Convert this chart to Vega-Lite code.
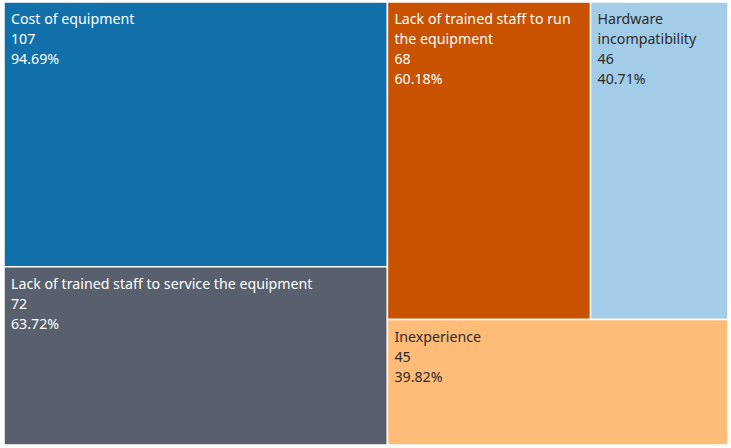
{
  "$schema": "https://vega.github.io/schema/vega-lite/v6.json",
  "width": 731,
  "height": 448,
  "autosize": {"type": "fit", "contains": "padding"},
  "padding": {"left": 3, "top": 1, "right": 2, "bottom": 2},
  "background": "white",
  "config": {"view": {"stroke": null}},
  "data": {
    "values": [
      {"category": "Cost of equipment", "label": "Cost of equipment", "count": 107, "percent": 94.69, "column": 1, "band": 1},
      {"category": "Lack of trained staff to service the equipment", "label": "Lack of trained staff to service the equipment", "count": 72, "percent": 63.72, "column": 1, "band": 2},
      {"category": "Lack of trained staff to run the equipment", "label": "Lack of trained staff to run\nthe equipment", "count": 68, "percent": 60.18, "column": 2, "band": 1},
      {"category": "Hardware incompatibility", "label": "Hardware\nincompatibility", "count": 46, "percent": 40.71, "column": 2, "band": 1},
      {"category": "Inexperience", "label": "Inexperience", "count": 45, "percent": 39.82, "column": 2, "band": 2}
    ]
  },
  "transform": [
    {"joinaggregate": [{"op": "sum", "field": "count", "as": "total"}]},
    {"joinaggregate": [{"op": "sum", "field": "count", "as": "colSum"}], "groupby": ["column"]},
    {"joinaggregate": [{"op": "sum", "field": "count", "as": "bandSum"}], "groupby": ["column", "band"]},
    {"window": [{"op": "sum", "field": "count", "as": "colEnd"}], "sort": [{"field": "column"}], "frame": [null, 0], "ignorePeers": false},
    {"window": [{"op": "sum", "field": "count", "as": "bandEnd"}], "groupby": ["column"], "sort": [{"field": "band"}], "frame": [null, 0], "ignorePeers": false},
    {"window": [{"op": "sum", "field": "count", "as": "itemEnd"}], "groupby": ["column", "band"], "sort": [{"field": "count", "order": "descending"}], "frame": [null, 0], "ignorePeers": true},
    {"calculate": "(datum.colEnd - datum.colSum + datum.colSum * (datum.itemEnd - datum.count) / datum.bandSum) / datum.total", "as": "x0"},
    {"calculate": "(datum.colEnd - datum.colSum + datum.colSum * datum.itemEnd / datum.bandSum) / datum.total", "as": "x1"},
    {"calculate": "(datum.bandEnd - datum.bandSum) / datum.colSum", "as": "y0"},
    {"calculate": "datum.bandEnd / datum.colSum", "as": "y1"},
    {"calculate": "datum.label + '\\n' + datum.count + '\\n' + format(datum.percent, '.2f') + '%'", "as": "text"}
  ],
  "encoding": {
    "x": {"field": "x0", "type": "quantitative", "scale": {"domain": [0, 1], "nice": false}, "axis": null},
    "y": {"field": "y0", "type": "quantitative", "scale": {"domain": [0, 1], "nice": false, "reverse": true}, "axis": null}
  },
  "layer": [
    {
      "mark": {"type": "rect", "stroke": "white", "strokeWidth": 1.5},
      "encoding": {
        "x2": {"field": "x1"},
        "y2": {"field": "y1"},
        "color": {
          "field": "category",
          "type": "nominal",
          "scale": {
            "domain": ["Cost of equipment", "Lack of trained staff to service the equipment", "Lack of trained staff to run the equipment", "Hardware incompatibility", "Inexperience"],
            "range": ["#1170aa", "#57606c", "#c85200", "#a3cce9", "#ffbc79"]
          },
          "legend": null
        },
        "tooltip": [{"field": "category"}, {"field": "count"}, {"field": "percent"}]
      }
    },
    {
      "mark": {"type": "text", "align": "left", "baseline": "top", "dx": 7, "dy": 11, "fontSize": 14.2, "lineHeight": 20, "lineBreak": "\n", "font": "Noto Sans"},
      "encoding": {
        "text": {"field": "text", "type": "nominal"},
        "color": {
          "condition": {"test": "indexof(['Hardware incompatibility', 'Inexperience'], datum.category) >= 0", "value": "#2b2b2b"},
          "value": "white"
        }
      }
    }
  ]
}
